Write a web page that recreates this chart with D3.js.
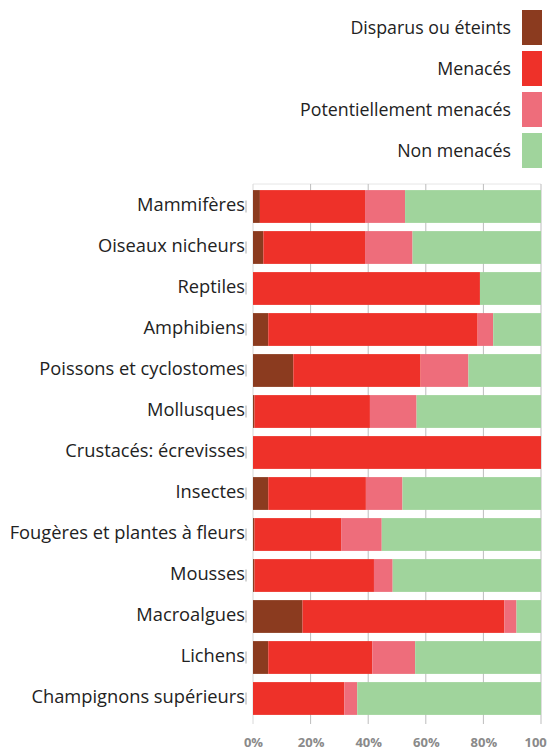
<!DOCTYPE html>
<html>
<head>
<meta charset="utf-8">
<script src="https://cdn.jsdelivr.net/npm/d3@7"></script>
<style>
    body { margin: 0; background: #fff; }
    #chart { width: 547px; height: 750px; }
    text { font-family: "Open Sans", sans-serif; }
    .cat-label { font-size: 18.3px; fill: #222; }
    .legend-label { font-size: 17.8px; fill: #222; }
    .x-axis text { font-size: 13px; font-weight: bold; fill: #8a8a8a; }
</style>
</head>
<body>
<div id="chart"></div>
<script>

// categories (top to bottom)
let categories = ["Mammifères", "Oiseaux nicheurs", "Reptiles", "Amphibiens", "Poissons et cyclostomes",
    "Mollusques", "Crustacés: écrevisses", "Insectes", "Fougères et plantes à fleurs", "Mousses",
    "Macroalgues", "Lichens", "Champignons supérieurs"];

// series names
let seriesNames = ["Disparus ou éteints", "Menacés", "Potentiellement menacés", "Non menacés"];
let seriesColors = ["#8b3b1f", "#ee3129", "#ee6d7b", "#a0d49c"];

// values in % per series, same order as categories
let disparus = [2.4, 3.6, 0, 5.3, 14.0, 0.5, 0, 5.3, 0.5, 0.5, 17.2, 5.3, 0];
let menaces = [36.5, 35.3, 78.8, 72.7, 44.2, 40.1, 100, 33.9, 30.1, 41.5, 70.1, 36.1, 31.7];
let potentiellement = [13.9, 16.5, 0, 5.4, 16.6, 16.2, 0, 12.7, 14.1, 6.5, 4.2, 14.9, 4.5];
let nonMenaces = [47.2, 44.6, 21.2, 16.6, 25.2, 43.2, 0, 48.1, 55.3, 51.5, 8.5, 43.7, 63.8];

let xTicks = [0, 20, 40, 60, 80, 100];

// build table for stacking
let data = categories.map((c, i) => ({
    cat: c,
    s0: disparus[i],
    s1: menaces[i],
    s2: potentiellement[i],
    s3: nonMenaces[i]
}));

let margin = {top: 186, right: 6, bottom: 31, left: 253};
let width = 547 - margin.left - margin.right;
let height = 750 - margin.top - margin.bottom;

let svg = d3.select("#chart").append("svg")
    .attr("width", 547)
    .attr("height", 750);

let g = svg.append("g")
    .attr("transform", "translate(" + margin.left + "," + margin.top + ")");

// scales
let x = d3.scaleLinear()
    .domain([0, 100])
    .range([0, 288]);

let y = d3.scaleBand()
    .domain(categories)
    .range([0, height])
    .paddingInner(0.2)
    .paddingOuter(0.1);

let color = d3.scaleOrdinal()
    .domain(["s0", "s1", "s2", "s3"])
    .range(seriesColors);

// gridlines + top border
g.append("line")
    .attr("x1", 0).attr("x2", x(100))
    .attr("y1", -2).attr("y2", -2)
    .attr("stroke", "#e6e6e6");

g.selectAll(".grid")
    .data(xTicks)
    .enter().append("line")
    .attr("class", "grid")
    .attr("x1", d => x(d)).attr("x2", d => x(d))
    .attr("y1", -2).attr("y2", height + 5)
    .attr("stroke", d => d === 0 ? "#d8d8d8" : "#bdbdbd")
    .attr("stroke-width", 1);

// stacked bars
let stack = d3.stack().keys(["s0", "s1", "s2", "s3"]);
let series = stack(data);

g.selectAll(".layer")
    .data(series)
    .enter().append("g")
    .attr("class", "layer")
    .attr("fill", d => color(d.key))
    .selectAll("rect")
    .data(d => d)
    .enter().append("rect")
    .attr("x", d => x(d[0]))
    .attr("y", d => y(d.data.cat))
    .attr("width", d => Math.max(0, x(d[1]) - x(d[0])))
    .attr("height", y.bandwidth());

// category labels + little tick marks
g.selectAll(".cat-label")
    .data(categories)
    .enter().append("text")
    .attr("class", "cat-label")
    .attr("x", -8)
    .attr("y", d => y(d) + y.bandwidth() / 2 - 2)
    .attr("dy", "0.35em")
    .attr("text-anchor", "end")
    .text(d => d);

g.selectAll(".cat-tick")
    .data(categories)
    .enter().append("line")
    .attr("class", "cat-tick")
    .attr("x1", -7).attr("x2", -7)
    .attr("y1", d => y(d) + y.bandwidth() / 2 - 6)
    .attr("y2", d => y(d) + y.bandwidth() / 2 + 6)
    .attr("stroke", "#aaa");

// x axis labels
let xAxis = d3.axisBottom(x)
    .tickValues(xTicks)
    .tickFormat(d => d + "%")
    .tickSize(0)
    .tickPadding(19);

g.append("g")
    .attr("class", "x-axis")
    .attr("transform", "translate(0," + height + ")")
    .call(xAxis)
    .call(a => a.select(".domain").remove());

// legend
let legend = svg.append("g")
    .attr("class", "legend")
    .attr("transform", "translate(522,10)");

let lg = legend.selectAll(".legend-item")
    .data(seriesNames)
    .enter().append("g")
    .attr("class", "legend-item")
    .attr("transform", (d, i) => "translate(0," + (i * 41) + ")");

lg.append("rect")
    .attr("width", 20)
    .attr("height", 35)
    .attr("fill", (d, i) => seriesColors[i]);

lg.append("text")
    .attr("class", "legend-label")
    .attr("x", -11)
    .attr("y", 17.5)
    .attr("dy", "0.35em")
    .attr("text-anchor", "end")
    .text(d => d);

</script>
</body>
</html>
